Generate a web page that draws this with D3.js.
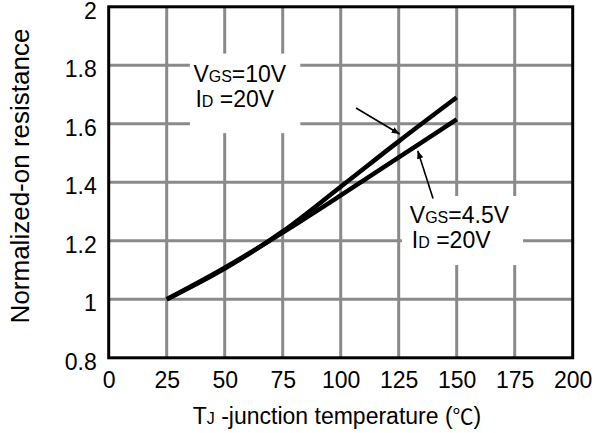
<!DOCTYPE html>
<html><head><meta charset="utf-8">
<script src="https://cdn.jsdelivr.net/npm/d3@7"></script>
<style>
html,body{margin:0;padding:0;background:#fff;}
text{font-family:"Liberation Sans",Arial,sans-serif;fill:#000;}
</style></head>
<body><svg id="c" width="606" height="433"></svg>
<script>
// ---- data ----
const temps = [25, 50, 75, 100, 125, 150];
const rds10V = [1.0, 1.105, 1.232, 1.385, 1.54, 1.69];
const rds45V = [1.0, 1.108, 1.228, 1.355, 1.485, 1.615];
const xTicks = [0, 25, 50, 75, 100, 125, 150, 175, 200];
const yTicks = [0.8, 1, 1.2, 1.4, 1.6, 1.8, 2];
const xDomain = [0, 200];
const yDomain = [0.8, 2];
// annotation anchors in data units
const label10V = {main: "V", sub: "GS", rest: "=10V", main2: "I", sub2: "D", rest2: " =20V", x: 36.5, y: 1.742, y2: 1.658};
const label45V = {main: "V", sub: "GS", rest: "=4.5V", main2: "I", sub2: "D", rest2: " =20V", x: 129.8, y: 1.26, y2: 1.174};
const box10V = {x0: 35, x1: 82.6, y0: 1.84, y1: 1.568};
const box45V = {x0: 126.4, x1: 178.6, y0: 1.353, y1: 1.117};
const arrow10V = {from: [106.6, 1.654], to: [125.4, 1.565]};
const arrow45V = {from: [139.8, 1.345], to: [133.2, 1.508]};

// ---- layout ----
const svg = d3.select("#c");
const L = 108.7, T = 6.8, W = 464, H = 351;
const x = d3.scaleLinear().domain(xDomain).range([L, L + W]);
const y = d3.scaleLinear().domain(yDomain).range([T + H, T]);

// grid
const grid = svg.append("g");
grid.selectAll("line.v").data(xTicks.slice(1, -1)).join("line")
  .attr("x1", d => x(d)).attr("x2", d => x(d)).attr("y1", T).attr("y2", T + H)
  .attr("stroke", "#8a8a8a").attr("stroke-width", 3);
grid.selectAll("line.h").data(yTicks.slice(1, -1)).join("line")
  .attr("y1", d => y(d)).attr("y2", d => y(d)).attr("x1", L).attr("x2", L + W)
  .attr("stroke", "#8a8a8a").attr("stroke-width", 3);

// white boxes behind labels
[box10V, box45V].forEach(b => {
  svg.append("rect").attr("x", x(b.x0)).attr("y", y(b.y0))
    .attr("width", x(b.x1) - x(b.x0)).attr("height", y(b.y1) - y(b.y0))
    .attr("fill", "#fff");
});

// curves
const line = d3.line().x(d => x(d[0])).y(d => y(d[1])).curve(d3.curveMonotoneX);
[rds10V, rds45V].forEach(s => {
  svg.append("path").datum(temps.map((t, i) => [t, s[i]]))
    .attr("d", line).attr("fill", "none").attr("stroke", "#000")
    .attr("stroke-width", 4.5).attr("stroke-linecap", "butt");
});

// arrows
svg.append("defs").append("marker").attr("id", "ah")
  .attr("viewBox", "0 0 10 10").attr("refX", 10).attr("refY", 5)
  .attr("markerWidth", 5).attr("markerHeight", 5).attr("orient", "auto")
  .attr("markerUnits", "strokeWidth")
  .append("path").attr("d", "M0,1 L10,5 L0,9 Z").attr("fill", "#000");
[arrow10V, arrow45V].forEach(a => {
  svg.append("line").attr("x1", x(a.from[0])).attr("y1", y(a.from[1]))
    .attr("x2", x(a.to[0])).attr("y2", y(a.to[1]))
    .attr("stroke", "#000").attr("stroke-width", 1.6).attr("marker-end", "url(#ah)");
});

// labels
[label10V, label45V].forEach(l => {
  const t1 = svg.append("text").attr("x", x(l.x)).attr("y", y(l.y)).attr("font-size", 23);
  t1.append("tspan").text(l.main);
  t1.append("tspan").attr("font-size", 16).text(l.sub);
  t1.append("tspan").text(l.rest);
  const t2 = svg.append("text").attr("x", x(l.x) + 2).attr("y", y(l.y2)).attr("font-size", 23);
  t2.append("tspan").text(l.main2);
  t2.append("tspan").attr("font-size", 16).text(l.sub2);
  t2.append("tspan").text(l.rest2);
});

// frame
svg.append("rect").attr("x", L).attr("y", T).attr("width", W).attr("height", H)
  .attr("fill", "none").attr("stroke", "#000").attr("stroke-width", 3);

// axes (labels only)
const xa = svg.append("g").attr("transform", `translate(0,${T + H})`)
  .call(d3.axisBottom(x).tickValues(xTicks).tickSize(0).tickPadding(14).tickFormat(d3.format("d")));
xa.select(".domain").remove();
xa.selectAll("text").attr("font-size", 23).attr("font-family", "Liberation Sans, Arial, sans-serif").attr("fill", "#000");

const ya = svg.append("g").attr("transform", `translate(${L},0)`)
  .call(d3.axisLeft(y).tickValues(yTicks).tickSize(0).tickPadding(12).tickFormat(d => String(d)));
ya.select(".domain").remove();
ya.selectAll("text").attr("font-size", 23).attr("font-family", "Liberation Sans, Arial, sans-serif").attr("fill", "#000").attr("dy", "0.5em");

// axis titles
svg.append("text").attr("transform", `translate(29,${176}) rotate(-90)`)
  .attr("text-anchor", "middle").attr("font-size", 26).text("Normalized-on resistance");
const xt = svg.append("text").attr("x", 337).attr("y", 424).attr("text-anchor", "middle").attr("font-size", 23);
xt.append("tspan").text("T");
xt.append("tspan").attr("font-size", 16).text("J");
xt.append("tspan").text(" -junction temperature (");
xt.append("tspan").attr("font-family", "Noto Sans CJK SC").attr("font-size", 21).text("℃");
xt.append("tspan").text(")");
</script></body></html>
